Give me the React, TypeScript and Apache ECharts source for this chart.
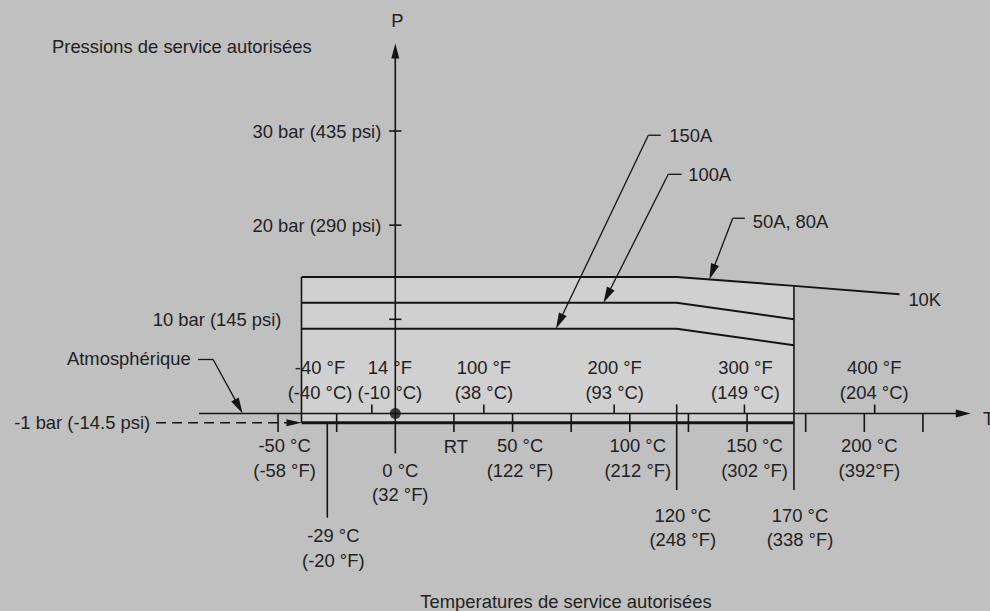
import React, { useEffect, useRef } from "react";
import * as echarts from "echarts";

// ---- axis extents (°C horizontally, bar vertically) ----
const X_MIN = -160;
const X_MAX = 250;
const Y_MIN = -20;
const Y_MAX = 40;

// ---- rating curves (°C, bar) ----
const curve10K = [[-40, 14.5], [120, 14.5], [170, 13.55], [215, 12.65]];
const curve100A = [[-40, 11.75], [120, 11.75], [170, 10.0]];
const curve150A = [[-40, 9.0], [120, 9.0], [170, 7.25]];
const ratedZone = [[-40, -1], [-40, 14.5], [120, 14.5], [170, 13.55], [170, -1]];

// ---- axis ticks ----
const pressureTicks = [10, 20, 30];
const pressureTickLabels = ["10 bar (145 psi)", "20 bar (290 psi)", "30 bar (435 psi)"];
const celsiusTicks = [-50, -25, 25, 50, 75, 100, 125, 150, 175, 200, 225];
const fahrenheitTicks = [-10, 37.78, 93.33, 148.89, 204.44];
const fahrenheitLabelAt = [-40, -10, 37.78, 93.33, 148.89, 204.44];
const fahrenheitTickLabels = [
  "-40 °F\n(-40 °C)",
  "14 °F\n(-10 °C)",
  "100 °F\n(38 °C)",
  "200 °F\n(93 °C)",
  "300 °F\n(149 °C)",
  "400 °F\n(204 °C)",
];
const celsiusLabelAt = [-50, 25, 50, 100, 150, 200];
const celsiusTickLabels = [
  "-50 °C\n(-58 °F)",
  "RT",
  "50 °C\n(122 °F)",
  "100 °C\n(212 °F)",
  "150 °C\n(302 °F)",
  "200 °C\n(392°F)",
];
const limitTemps = [-29, 0, 120, 170];
const limitLabels = ["-29 °C\n(-20 °F)", "0 °C\n(32 °F)", "120 °C\n(248 °F)", "170 °C\n(338 °F)"];

const MIN_T = -40;
const MAX_T = 170;
const BEND_T = 120;
const ATM_P = 0;
const VAC_P = -1;

// ---- styling ----
const BG = "#c0c0c0";
const ZONE = "#d0d0d0";
const INK = "#141414";
const TXT = "#222222";
const FONT = '"Liberation Sans", Arial, Helvetica, sans-serif';
const FS = 18.4;
const LH = 24.5;

type Seg = number[];
type Ann = { text: string; x: number; y: number; dx?: number; dy?: number; align?: string };

// layout of text annotations
const fLabelY = 3.55;
const cLabelY = -4.73;
const fLabelDx = [18.5, 18, 0, 0.5, 1, -0.5];
const cLabelDx = [6.5, 2, 7.5, 8, 7.5, 5];
const cLabelYs = [cLabelY, -3.46, cLabelY, cLabelY, cLabelY, cLabelY];
const limitLabelY = [-14.29, -7.33, -12.11, -12.11];
const limitLabelDx = [6, 5, 6, 6];

const annotations: Ann[] = [
  { text: "P", x: 0, y: 41.7, dx: 2, align: "center" },
  { text: "Pressions de service autorisées", x: -146.4, y: 39.0, align: "left" },
  { text: pressureTickLabels[2], x: 0, y: pressureTicks[2], dx: -14, align: "right" },
  { text: pressureTickLabels[1], x: 0, y: pressureTicks[1], dx: -14, align: "right" },
  { text: pressureTickLabels[0], x: MIN_T, y: pressureTicks[0], dx: -20, align: "right" },
  { text: "Atmosphérique", x: -87.25, y: 5.83, align: "right" },
  { text: "-1 bar (-14.5 psi)", x: -102, y: VAC_P, dx: -6, align: "right" },
  { text: "T", x: 250.6, y: -0.5, align: "left" },
  { text: "150A", x: 116.8, y: 29.5, align: "left" },
  { text: "100A", x: 124.9, y: 25.33, align: "left" },
  { text: "50A, 80A", x: 152.4, y: 20.44, align: "left" },
  { text: "10K", x: 218.8, y: 12.13, align: "left" },
  { text: "Temperatures de service autorisées", x: 72.8, y: -19.98, align: "center" },
  ...fahrenheitTickLabels.map((t, i) => ({ text: t, x: fahrenheitLabelAt[i], y: fLabelY, dx: fLabelDx[i], align: "center" })),
  ...celsiusTickLabels.map((t, i) => ({ text: t, x: celsiusLabelAt[i], y: cLabelYs[i], dx: cLabelDx[i], align: "center" })),
  ...limitLabels.map((t, i) => ({ text: t, x: limitTemps[i], y: limitLabelY[i], dx: limitLabelDx[i], align: "center" })),
];

// ---- line work ----
const frameSegs: Seg[] = [
  [MIN_T, VAC_P, MIN_T, curve10K[0][1]],
  [MAX_T, curve10K[2][1], MAX_T, -8.13],
  [BEND_T, 0.97, BEND_T, -8.13],
  [-29, VAC_P, -29, -11.07],
  ...pressureTicks.map((p) => [-2.6, p, 2.6, p]),
  ...celsiusTicks.map((t) => [t, ATM_P, t, -1.97]),
  ...fahrenheitTicks.map((t) => [t, ATM_P, t, 0.95]),
];
const bottomSegs: Seg[] = [[MIN_T, VAC_P, MAX_T, VAC_P]];
const axisArrows: Seg[] = [
  [0, -4.25, 0, 39.3],
  [-83.7, ATM_P, 245.4, ATM_P],
];
const vacuumArrow: Seg[] = [[-102, VAC_P, MIN_T, VAC_P]];
const leaderStubs: Seg[] = [
  [-84.1, 5.73, -77.7, 5.73],
  [107.9, 29.55, 113.2, 29.55],
  [116.4, 25.4, 122.1, 25.4],
  [143.9, 20.73, 149.1, 20.73],
];
const leaderArrows: Seg[] = [
  [-77.7, 5.73, -65.1, ATM_P],
  [107.9, 29.55, 68.5, 9.0],
  [116.4, 25.4, 88.8, 11.75],
  [143.9, 20.73, 133.9, 14.24],
];

function segmentSeries(
  segs: Seg[],
  o: { width: number; dash?: number[]; arrowLen?: number; arrowWid?: number; z?: number }
) {
  return {
    type: "custom",
    coordinateSystem: "cartesian2d",
    silent: true,
    z: o.z ?? 3,
    data: segs,
    encode: { x: [0, 2], y: [1, 3] },
    renderItem: (_p: any, api: any) => {
      const a = api.coord([api.value(0), api.value(1)]);
      const b = api.coord([api.value(2), api.value(3)]);
      const children: any[] = [];
      let end = b;
      if (o.arrowLen) {
        const L = o.arrowLen;
        const W = o.arrowWid ?? 8;
        const dx = b[0] - a[0];
        const dy = b[1] - a[1];
        const len = Math.hypot(dx, dy) || 1;
        const ux = dx / len;
        const uy = dy / len;
        const nx = -uy;
        const ny = ux;
        const bx = b[0] - ux * L;
        const by = b[1] - uy * L;
        end = [bx + ux * 2, by + uy * 2];
        children.push({
          type: "polygon",
          shape: {
            points: [
              [b[0], b[1]],
              [bx + (nx * W) / 2, by + (ny * W) / 2],
              [bx - (nx * W) / 2, by - (ny * W) / 2],
            ],
          },
          style: { fill: INK },
        });
      }
      children.unshift({
        type: "line",
        shape: { x1: a[0], y1: a[1], x2: end[0], y2: end[1] },
        style: { stroke: INK, lineWidth: o.width, lineDash: o.dash || null },
      });
      return { type: "group", children };
    },
  };
}

function curveSeries(name: string, data: number[][]) {
  return {
    type: "line",
    name,
    data,
    symbol: "none",
    silent: true,
    z: 4,
    clip: false,
    lineStyle: { color: INK, width: 2 },
  };
}

export default function App() {
  const ref = useRef<HTMLDivElement>(null);

  useEffect(() => {
    document.body.style.margin = "0";
    document.body.style.background = BG;
    if (!ref.current) return;
    const chart = echarts.init(ref.current, undefined, { renderer: "svg" });

    const option: any = {
      animation: false,
      backgroundColor: BG,
      grid: { left: 20.1, top: 36.85, width: 961.45, height: 564.9, containLabel: false },
      xAxis: { type: "value", min: X_MIN, max: X_MAX, show: false },
      yAxis: { type: "value", min: Y_MIN, max: Y_MAX, show: false },
      series: [
        {
          type: "custom",
          coordinateSystem: "cartesian2d",
          silent: true,
          z: 1,
          data: [ratedZone[0]],
          renderItem: (_p: any, api: any) => ({
            type: "polygon",
            shape: { points: ratedZone.map((pt) => api.coord(pt)) },
            style: { fill: ZONE },
          }),
        },
        curveSeries("10K / 50A, 80A", curve10K),
        curveSeries("100A", curve100A),
        curveSeries("150A", curve150A),
        segmentSeries(frameSegs, { width: 1.6 }),
        segmentSeries(bottomSegs, { width: 3 }),
        segmentSeries(axisArrows, { width: 1.6, arrowLen: 15, arrowWid: 8 }),
        segmentSeries(vacuumArrow, { width: 1.5, dash: [10, 6], arrowLen: 15, arrowWid: 7 }),
        segmentSeries(leaderStubs, { width: 1.3 }),
        segmentSeries(leaderArrows, { width: 1.3, arrowLen: 16, arrowWid: 8.5 }),
        {
          type: "scatter",
          data: [[0, ATM_P]],
          symbolSize: 11,
          silent: true,
          z: 6,
          itemStyle: { color: INK },
        },
        {
          type: "custom",
          coordinateSystem: "cartesian2d",
          silent: true,
          z: 7,
          data: annotations.map((a) => [a.x, a.y]),
          renderItem: (params: any, api: any) => {
            const a = annotations[params.dataIndex];
            const c = api.coord([a.x, a.y]);
            return {
              type: "text",
              x: c[0] + (a.dx || 0),
              y: c[1] + (a.dy || 0),
              style: {
                text: a.text,
                fill: TXT,
                fontSize: FS,
                fontFamily: FONT,
                align: a.align || "center",
                verticalAlign: "middle",
                lineHeight: LH,
              },
            };
          },
        },
      ],
    };

    chart.setOption(option);
    return () => chart.dispose();
  }, []);

  return <div ref={ref} style={{ width: 990, height: 611, position: "absolute", left: 0, top: 0 }} />;
}
